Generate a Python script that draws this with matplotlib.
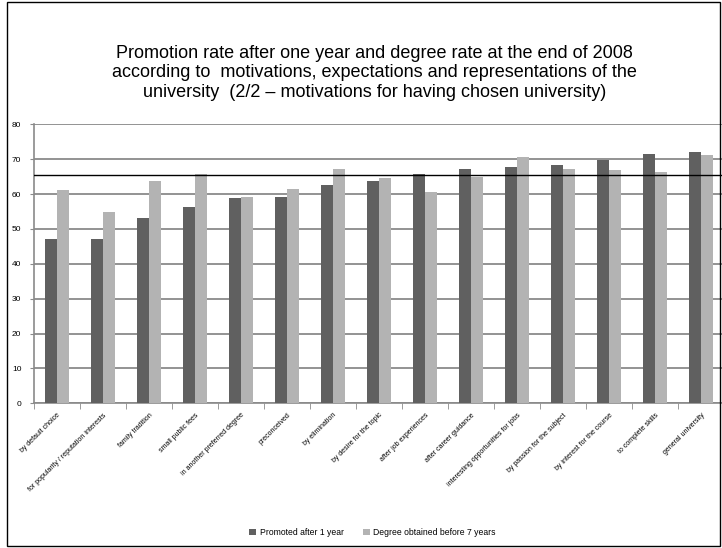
import numpy as np
import matplotlib
matplotlib.use("Agg")
import matplotlib.pyplot as plt
from matplotlib.patches import Rectangle

plt.rcParams["font.family"] = ["Liberation Sans", "DejaVu Sans"]

categories = [
    "by default choice",
    "for popularity / reputation interests",
    "family tradition",
    "small public fees",
    "in another preferred degree",
    "preconceived",
    "by elimination",
    "by desire for the topic",
    "after job experiences",
    "after career guidance",
    "interesting opportunities for jobs",
    "by passion for the subject",
    "by interest for the course",
    "to complete skills",
    "general university",
]
promoted = [47.0, 47.0, 53.1, 56.4, 58.8, 59.2, 62.6, 63.9, 65.9, 67.3, 67.8, 68.3, 69.7, 71.6, 72.1]
degree = [61.1, 55.0, 63.9, 65.9, 59.2, 61.6, 67.3, 64.5, 60.6, 64.9, 70.7, 67.3, 66.8, 66.4, 71.1]
average_line = 65.4

fig = plt.figure(figsize=(7.22, 5.48), dpi=100)
ax = fig.add_axes([0.047, 0.264, 0.9557, 0.509])

x = np.arange(len(categories))
w = 0.27
ax.bar(x - w / 2, promoted, w, color="#606060", label="Promoted after 1 year", zorder=3)
ax.bar(x + w / 2, degree, w, color="#b3b3b3", label="Degree obtained before 7 years", zorder=3)
ax.axhline(average_line, color="black", linewidth=1.0, zorder=4)

ax.set_xlim(-0.5, len(categories) - 0.5)
ax.set_ylim(0, 80)
ax.set_yticks(range(0, 81, 10))
ax.yaxis.grid(True, color="#8a8a8a", linewidth=1.3, zorder=0)
ax.set_axisbelow(True)

ax.set_xticks(x)
ax.set_xticklabels(categories, rotation=45, ha="right", rotation_mode="anchor", fontsize=5)
ax.set_xticks(np.arange(-0.5, len(categories), 1), minor=True)
ax.tick_params(axis="x", which="major", length=0, pad=6)
ax.tick_params(axis="x", which="minor", length=4, color="#8a8a8a", direction="out")
ax.tick_params(axis="y", labelsize=6, length=3, color="#8a8a8a", pad=6)

for side in ["top", "right"]:
    ax.spines[side].set_visible(False)
for side in ["left", "bottom"]:
    ax.spines[side].set_color("#8a8a8a")
    ax.spines[side].set_linewidth(1.2)

fig.text(0.519, 0.867,
         "Promotion rate after one year and degree rate at the end of 2008\n"
         "according to  motivations, expectations and representations of the\n"
         "university  (2/2 \u2013 motivations for having chosen university)",
         ha="center", va="center", fontsize=13, linespacing=1.2)

fig.legend(loc="center", bbox_to_anchor=(0.516, 0.028), ncol=2, frameon=False,
           fontsize=6.2, handlelength=0.8, handleheight=0.8, handletextpad=0.4,
           columnspacing=2.2)

fig.patches.append(Rectangle((0.0097, 0.003), 0.988, 0.994, transform=fig.transFigure,
                             fill=False, edgecolor="black", linewidth=1.0))

fig.savefig("out.png", dpi=100)
